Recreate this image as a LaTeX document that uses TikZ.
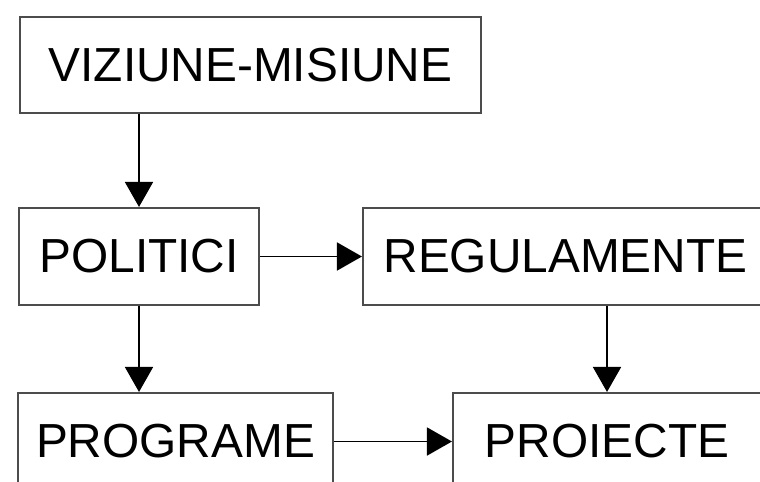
\documentclass[tikz,border=0pt]{standalone}
\usepackage{fontspec}
\setmainfont{Liberation Sans}
\usetikzlibrary{arrows.meta}
\usetikzlibrary{calc}
\tikzset{casuta/.style={shape=rectangle,draw=black!70,line width=0.6pt,minimum height=0.97cm,inner sep=0pt,font=\fontsize{13.6}{16}\selectfont},
sageata/.style={draw=black,line width=0.5pt,-{Triangle[length=2.5mm,width=2.8mm]}}}

\begin{document}
\begin{tikzpicture}
\clip (0,0) rectangle (7.6,4.81);
\draw (2.505,4.16) node (viz) [casuta,minimum width=4.61cm,minimum height=0.96cm] {VIZIUNE-MISIUNE};
\draw (1.39,2.245) node (pol) [casuta,minimum width=2.40cm] {POLITICI};
\draw (5.655,2.245) node (reg) [casuta,minimum width=4.05cm] {REGULAMENTE};
\draw (1.755,0.395) node (prog) [casuta,minimum width=3.15cm] {PROGRAME};
\draw (6.07,0.395) node (proi) [casuta,minimum width=3.08cm] {PROIECTE};
\draw[sageata] (viz.south -| pol.north) -- (pol.north);
\draw[sageata] (pol.east) -- (reg.west);
\draw[sageata] (pol.south) -- (pol.south |- prog.north);
\draw[sageata] (reg.south -| proi.north) -- (proi.north);
\draw[sageata] (prog.east) -- (proi.west);
\end{tikzpicture}
\end{document}
